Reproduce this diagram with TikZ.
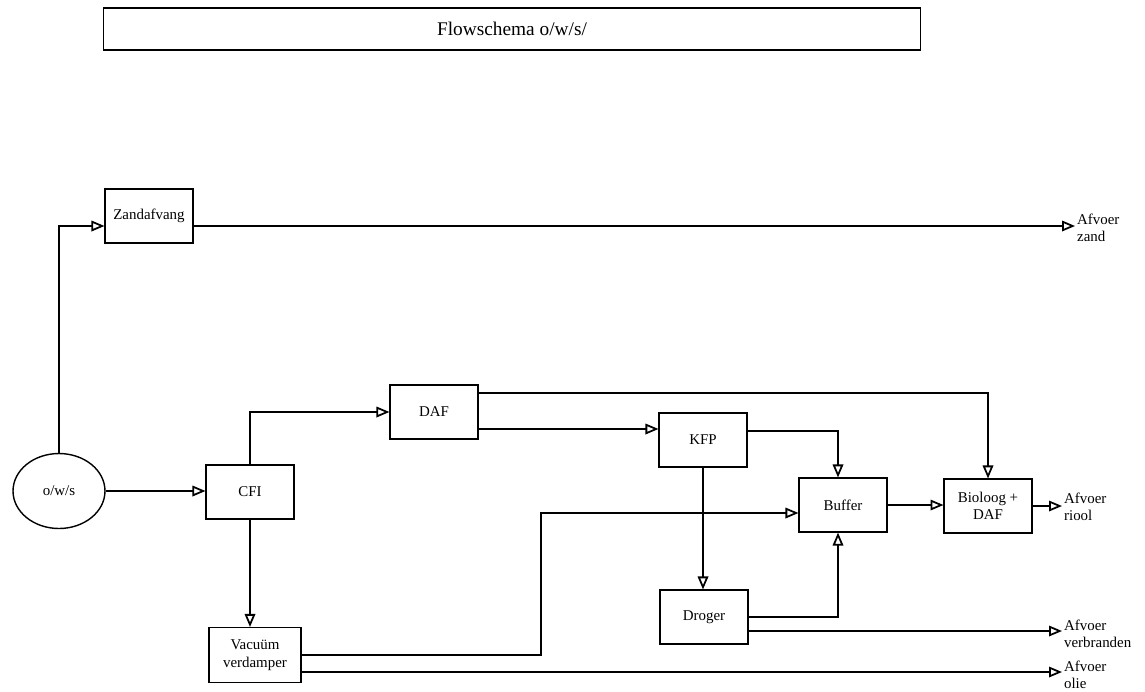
\documentclass[tikz,border=0pt]{standalone}
\usepackage{fontspec}
\setmainfont{Liberation Serif}
\usetikzlibrary{arrows.meta,shapes.geometric}

\begin{document}
\begin{tikzpicture}[x=0.02cm, y=-0.02cm,
    box/.style = {draw, line width=0.6pt, minimum width=1.76cm, minimum height=1.08cm, align=center, font=\fontsize{8.5}{10}\selectfont},
    flow/.style = {line width=1pt, -{Triangle[open, length=2.6mm, width=2.1mm]}},
    outlbl/.style = {anchor=west, align=left, inner sep=1pt, font=\fontsize{8.5}{10}\selectfont}]
    % Frame of the page
    \useasboundingbox (0,0) rectangle (1145,691);

    % Title
    \node[draw, line width=0.6pt, minimum width=16.36cm, minimum height=0.84cm, font=\fontsize{11}{13}\selectfont] (title) at (512,29) {Flowschema o/w/s/};

    % Units
    \node[ellipse, draw, line width=0.8pt, minimum width=1.84cm, minimum height=1.5cm, font=\fontsize{8.5}{10}\selectfont] (ows) at (59,491) {o/w/s};
    \node[box] (zand) at (149,216) {Zandafvang};
    \node[box] (cfi) at (250,492) {CFI};
    \node[box] (daf) at (434,412) {DAF};
    \node[box] (kfp) at (703,440) {KFP};
    \node[box] (buffer) at (843,505) {Buffer};
    \node[box] (bio) at (988,506) {Bioloog +\\DAF};
    \node[box] (droger) at (704,617) {Droger};
    \node[box, minimum width=1.84cm, minimum height=1.1cm] (vac) at (255,655) {Vacuüm\\verdamper};

    % Outlets
    \node[outlbl] (afzand) at (1075,228) {Afvoer\\zand};
    \node[outlbl] (afriool) at (1062,507) {Afvoer\\riool};
    \node[outlbl] (afverbr) at (1062,634) {Afvoer\\verbranden};
    \node[outlbl] (afolie) at (1062,675) {Afvoer\\olie};
    \coordinate (bend) at (541,0);

    % Flows
    \draw[flow] (ows.north) |- ([yshift=-0.2cm]zand.west);
    \draw[flow] ([yshift=-0.2cm]zand.east) -- ([yshift=-0.2cm]zand.east -| afzand.west);
    \draw[flow] (ows.east) -- (ows.east -| cfi.west);
    \draw[flow] (cfi.north) |- (daf.west);
    \draw[flow] (cfi.south) -- (cfi.south |- vac.north);
    \draw[flow] ([yshift=0.38cm]daf.east) -| (bio.north);
    \draw[flow] ([yshift=-0.34cm]daf.east) -- ([yshift=-0.34cm]daf.east -| kfp.west);
    \draw[flow] ([yshift=0.18cm]kfp.east) -| ([xshift=-0.1cm]buffer.north);
    \draw[flow] (kfp.south) -- (kfp.south |- droger.north);
    \draw[flow] (buffer.east) -- (buffer.east -| bio.west);
    \draw[flow] (bio.east) -- (bio.east -| afriool.west);
    \draw[flow] (droger.east) -| ([xshift=-0.1cm]buffer.south);
    \draw[flow] ([yshift=-0.28cm]droger.east) -- ([yshift=-0.28cm]droger.east -| afverbr.west);
    \draw[flow] (vac.east) -- (vac.east -| bend) |- ([yshift=-0.16cm]buffer.west);
    \draw[flow] ([yshift=-0.34cm]vac.east) -- ([yshift=-0.34cm]vac.east -| afolie.west);

\end{tikzpicture}
\end{document}
